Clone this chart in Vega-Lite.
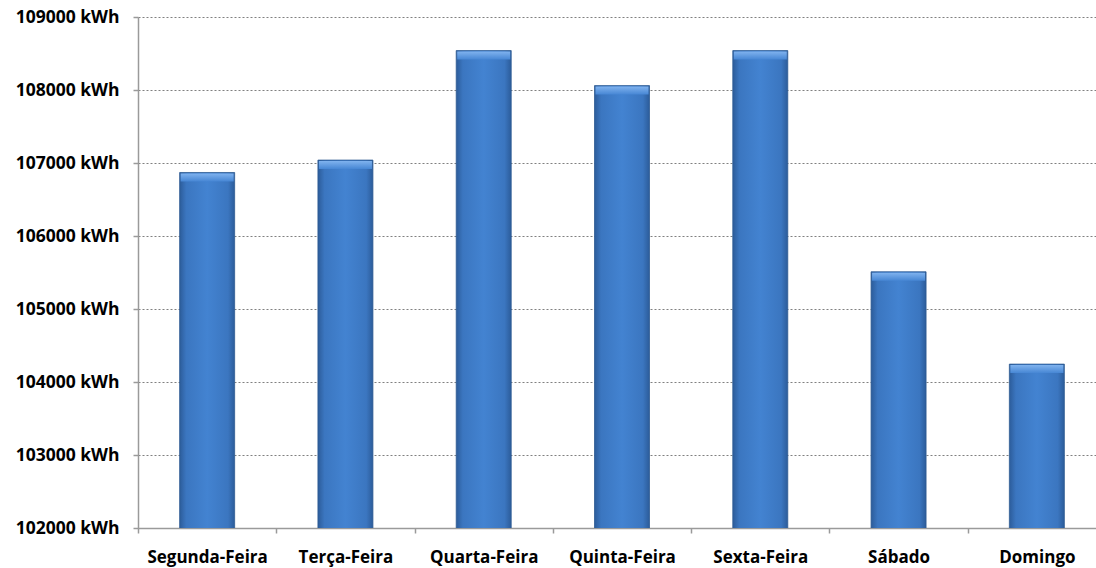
{
  "$schema": "https://vega.github.io/schema/vega-lite/v6.json",
  "autosize": {"type": "none"},
  "padding": {"left": 138, "top": 17, "right": 0, "bottom": 40},
  "width": 958,
  "height": 511,
  "background": "white",
  "data": {"values": [
    {"dia": "Segunda-Feira", "kwh": 106870},
    {"dia": "Terça-Feira", "kwh": 107040},
    {"dia": "Quarta-Feira", "kwh": 108540},
    {"dia": "Quinta-Feira", "kwh": 108060},
    {"dia": "Sexta-Feira", "kwh": 108540},
    {"dia": "Sábado", "kwh": 105510},
    {"dia": "Domingo", "kwh": 104245}
  ]},
  "config": {
    "view": {"stroke": null},
    "font": "Open Sans"
  },
  "layer": [
    {
      "mark": {
        "type": "bar",
        "size": 55,
        "clip": true,
        "fill": {"gradient": "linear", "x1": 0, "y1": 0, "x2": 1, "y2": 0, "stops": [
          {"offset": 0, "color": "#2c5c9a"},
          {"offset": 0.12, "color": "#3b76c0"},
          {"offset": 0.5, "color": "#4383d1"},
          {"offset": 0.88, "color": "#3b76c0"},
          {"offset": 1, "color": "#2c5c9a"}
        ]},
        "stroke": "#2d5a92",
        "strokeWidth": 0.8
      },
      "encoding": {
        "x": {
          "field": "dia", "type": "nominal", "sort": null,
          "scale": {"range": [0, 968], "paddingInner": 0, "paddingOuter": 0},
          "axis": {
            "title": null, "labelAngle": 0, "labelFont": "Open Sans", "labelFontWeight": "bold",
            "labelFontSize": 17, "labelColor": "#000000", "labelPadding": 16,
            "domainColor": "#9a9a9a", "domainWidth": 1.5, "tickColor": "#9a9a9a", "tickWidth": 1.5,
            "tickSize": 5, "tickBand": "extent", "grid": false
          }
        },
        "y": {
          "field": "kwh", "type": "quantitative",
          "scale": {"domain": [102000, 109000], "zero": false, "nice": false},
          "axis": {
            "title": null, "values": [102000, 103000, 104000, 105000, 106000, 107000, 108000, 109000],
            "labelExpr": "format(datum.value, 'd') + ' kWh'",
            "labelFont": "Open Sans", "labelFontWeight": "bold", "labelFontSize": 17.5, "labelColor": "#000000",
            "labelPadding": 14, "tickSize": 5, "tickColor": "#9a9a9a", "tickWidth": 1.5,
            "domainColor": "#9a9a9a", "domainWidth": 1.5,
            "grid": true, "gridColor": "#808080", "gridDash": [2, 2], "gridWidth": 1
          }
        }
      }
    },
    {
      "mark": {
        "type": "tick", "orient": "horizontal", "size": 53, "thickness": 8, "yOffset": 5,
        "fill": {"gradient": "linear", "x1": 0, "y1": 0, "x2": 0, "y2": 1, "stops": [
          {"offset": 0, "color": "#7fb2ee"},
          {"offset": 1, "color": "#4686d4"}
        ]},
        "opacity": 1
      },
      "encoding": {
        "x": {"field": "dia", "type": "nominal", "sort": null},
        "y": {"field": "kwh", "type": "quantitative"}
      }
    }
  ]
}
